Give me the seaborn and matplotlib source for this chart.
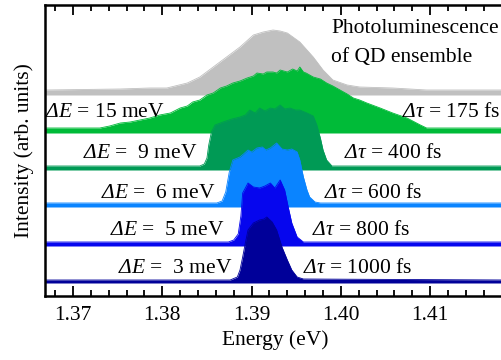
import numpy as np
import pandas as pd
import seaborn as sns
import matplotlib
matplotlib.use("Agg")
import matplotlib.pyplot as plt
from matplotlib.ticker import MultipleLocator, NullLocator

sns.set_style("ticks")
plt.rcParams['font.family'] = ['Liberation Serif', 'DejaVu Serif']
plt.rcParams['mathtext.fontset'] = 'custom'
plt.rcParams['mathtext.rm'] = 'Liberation Serif'
plt.rcParams['mathtext.cal'] = 'Liberation Serif:italic'
for key in ['text.color', 'axes.labelcolor', 'xtick.color', 'ytick.color', 'axes.edgecolor']:
    plt.rcParams[key] = 'black'

# spectra: energy (eV) and height (arb. units)
pl_E = [1.3669, 1.3753, 1.3786, 1.3805, 1.3828, 1.3842, 1.3857, 1.3872, 1.3887, 1.3902,
        1.3913, 1.3924, 1.3932, 1.3940, 1.3954, 1.3969, 1.3980, 1.3991, 1.4007, 1.4021,
        1.4058, 1.4096, 1.4185]
pl_I = [5, 6, 7, 7, 12, 18, 28, 38, 48, 60, 63, 65, 64, 62, 53, 38, 25, 15, 10, 8, 7, 5, 5]

e15_E = [1.3669, 1.3730, 1.3741, 1.3753, 1.3764, 1.3775, 1.3786, 1.3797, 1.3809, 1.3820,
         1.3828, 1.3834, 1.3842, 1.3850, 1.3857, 1.3865, 1.3872, 1.3879, 1.3887, 1.3895,
         1.3902, 1.3906, 1.3913, 1.3917, 1.3924, 1.3928, 1.3932, 1.3940, 1.3946, 1.3951,
         1.3954, 1.3958, 1.3961, 1.3969, 1.3977, 1.3984, 1.3991, 1.3999, 1.4007, 1.4014,
         1.4021, 1.4029, 1.4044, 1.4058, 1.4074, 1.4089, 1.4096, 1.4185]
e15_I = [5, 5, 7, 10, 11, 13, 15, 18, 20, 25,
         27, 31, 33, 38, 40, 45, 47, 50, 52, 55,
         57, 60, 59, 61, 61, 60, 63, 61, 64, 62,
         66, 61, 60, 56, 54, 50, 47, 43, 39, 35,
         33, 30, 25, 20, 15, 8, 5, 5]

e9_E = [1.3669, 1.3842, 1.3847, 1.3850, 1.3852, 1.3855, 1.3859, 1.3868, 1.3878, 1.3887,
        1.3893, 1.3898, 1.3904, 1.3909, 1.3915, 1.3921, 1.3926, 1.3932, 1.3937, 1.3943,
        1.3949, 1.3954, 1.3962, 1.3969, 1.3973, 1.3977, 1.3980, 1.3984, 1.3990, 1.4185]
e9_I = [4, 4, 6, 12, 25, 38, 45, 48, 51, 53,
        55, 60, 57, 62, 59, 62, 61, 65, 61, 62,
        60, 60, 57, 54, 45, 32, 20, 10, 4, 4]

e6_E = [1.3669, 1.3861, 1.3867, 1.3871, 1.3875, 1.3879, 1.3887, 1.3891, 1.3896, 1.3900,
        1.3906, 1.3912, 1.3916, 1.3921, 1.3928, 1.3934, 1.3940, 1.3945, 1.3951, 1.3954,
        1.3958, 1.3962, 1.3965, 1.3971, 1.3977, 1.4185]
e6_I = [4, 4, 6, 15, 35, 47, 50, 53, 57, 55,
        59, 60, 57, 59, 64, 58, 57, 58, 55, 47,
        30, 17, 10, 5, 4, 4]

e5_E = [1.3669, 1.3874, 1.3880, 1.3885, 1.3888, 1.3890, 1.3896, 1.3902, 1.3909, 1.3915,
        1.3921, 1.3926, 1.3932, 1.3937, 1.3941, 1.3945, 1.3951, 1.3958, 1.4185]
e5_I = [4, 4, 6, 12, 30, 53, 63, 59, 58, 60,
        63, 58, 66, 56, 39, 23, 9, 4, 4]

e3_E = [1.3669, 1.3876, 1.3884, 1.3887, 1.3890, 1.3893, 1.3896, 1.3902, 1.3909, 1.3914,
        1.3917, 1.3923, 1.3928, 1.3934, 1.3940, 1.3945, 1.3951, 1.3958, 1.4185]
e3_I = [3, 3, 6, 13, 26, 40, 53, 60, 63, 64,
        66, 61, 53, 36, 23, 13, 6, 4, 3]

dE_labels = ["15 meV", " 9 meV", " 6 meV", " 5 meV", " 3 meV"]
dtau_labels = ["175 fs", "400 fs", "600 fs", "800 fs", "1000 fs"]

spectra = [(pl_E, pl_I), (e15_E, e15_I), (e9_E, e9_I), (e6_E, e6_I), (e5_E, e5_I), (e3_E, e3_I)]
offsets = [201, 163, 126, 89, 50, 13]
colors = ["#c0c0c0", "#00bb38", "#009a55", "#0a84ff", "#0606ee", "#000099"]

fig = plt.figure(figsize=(5.02, 3.6), dpi=100)
ax = fig.add_axes([45 / 502, 64 / 360, 461 / 502, 291 / 360])

for k, ((E, I), off, c) in enumerate(zip(spectra, offsets, colors)):
    df = pd.DataFrame({"E": E, "I": np.array(I) + off})
    sns.lineplot(data=df, x="E", y="I", color=c, lw=0.6, ax=ax, zorder=2 + k)
    ax.fill_between(df["E"], off, df["I"], color=c, lw=0, zorder=2 + k)

# labels
dE_x = [1.3803, 1.3839, 1.3860, 1.3870, 1.3879]
dtau_x = [1.4068, 1.4003, 1.3981, 1.3968, 1.3958]
lab_y = [179, 138, 98, 61, 23]
fs = 15.5
for lbl, x, y in zip(dE_labels, dE_x, lab_y):
    ax.text(x, y, r"$\mathcal{ΔE}$ = " + lbl, ha="right", va="baseline", fontsize=fs, zorder=20)
for lbl, x, y in zip(dtau_labels, dtau_x, lab_y):
    ax.text(x, y, r"$\mathcal{Δτ}$ = " + lbl, ha="left", va="baseline", fontsize=fs, zorder=20)
ax.text(1.3989, 263, "Photoluminescence", ha="left", va="baseline", fontsize=fs, zorder=20)
ax.text(1.3989, 234, "of QD ensemble", ha="left", va="baseline", fontsize=fs, zorder=20)

ax.set_xlim(1.366865, 1.418488)
ax.set_ylim(0, 291)
ax.xaxis.set_major_locator(MultipleLocator(0.01))
ax.xaxis.set_minor_locator(MultipleLocator(0.002))
ax.xaxis.set_major_formatter(matplotlib.ticker.FormatStrFormatter("%.2f"))
ax.set_yticks([])
ax.yaxis.set_minor_locator(NullLocator())
ax.tick_params(axis="y", which="both", left=False, right=False, length=0)
ax.tick_params(axis="x", which="both", direction="in", top=True, bottom=True, width=1.3,
               labelsize=fs, pad=7)
ax.tick_params(axis="x", which="major", length=7)
ax.tick_params(axis="x", which="minor", length=4)
for s in ax.spines.values():
    s.set_linewidth(1.8)
    s.set_zorder(30)
ax.set_xlabel("Energy (eV)", fontsize=fs, labelpad=4)
ax.set_ylabel("Intensity (arb. units)", fontsize=fs, labelpad=8)

fig.savefig("out.png", dpi=100)
